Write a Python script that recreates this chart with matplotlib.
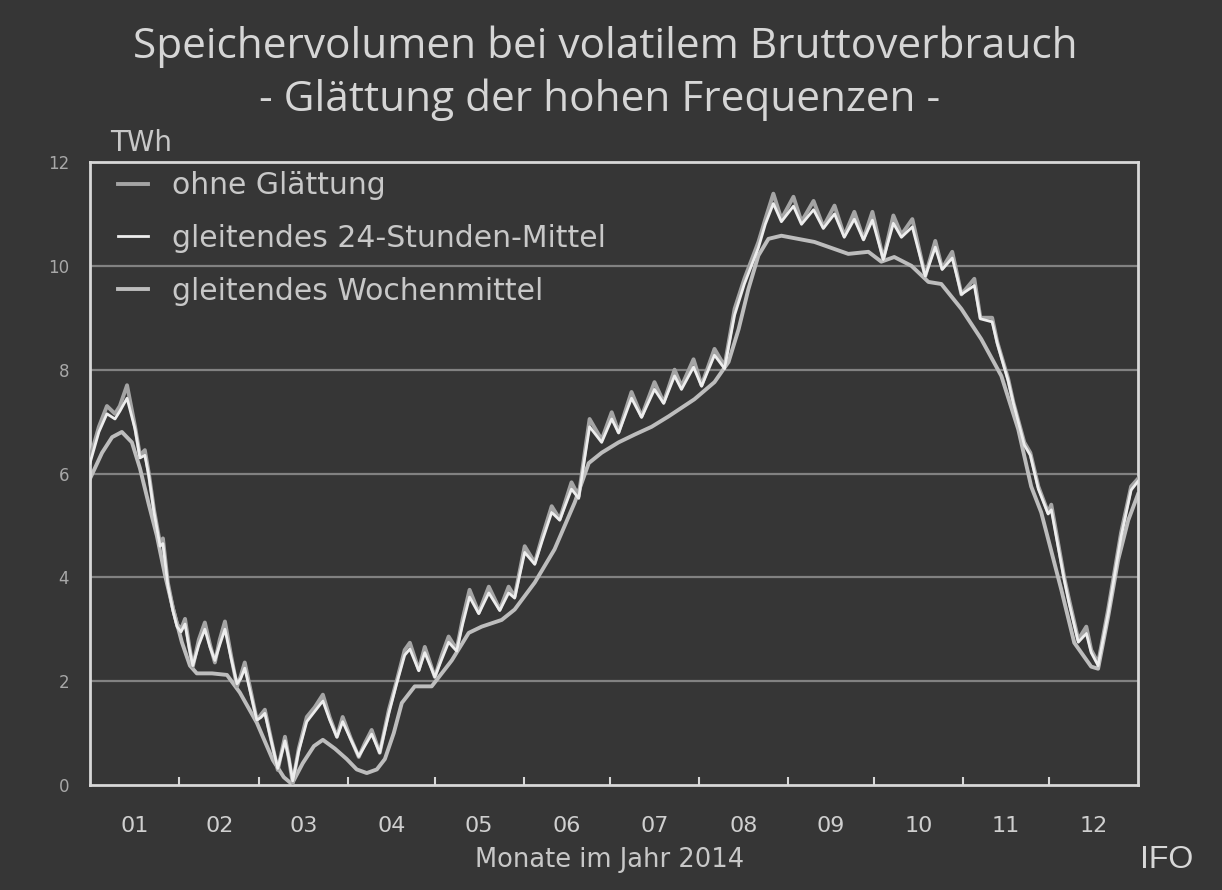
import matplotlib
matplotlib.use("Agg")
import matplotlib.pyplot as plt
import numpy as np

# ---------------- data (day of year 2014, TWh) ----------------
days_raw = [0, 3.1, 5.9, 8.7, 10.4, 12.9, 15.7, 17.4, 19.1, 20.5,
            22.3, 24.4, 25.4, 27.1, 28.9, 30.3, 31.7, 33.1, 34.5, 35.8,
            37.9, 40.0, 41.8, 43.5, 45.2, 47.0, 49.1, 51.2, 52.5, 53.9,
            56.0, 58.1, 59.5, 60.9, 63.0, 65.4, 67.9, 69.3, 70.6, 72.7,
            75.5, 78.3, 81.1, 83.5, 86.0, 88.0, 90.8, 93.6, 95.7, 98.1,
            100.9, 104.1, 106.8, 109.6, 111.4, 114.5, 116.6, 120.1, 122.5, 124.9,
            127.7, 129.8, 132.2, 135.4, 138.9, 142.7, 145.8, 147.9, 151.4, 154.9,
            157.6, 160.8, 163.6, 167.7, 170.2, 172.3, 174.0, 178.2, 181.7, 184.1,
            188.6, 192.1, 196.6, 199.8, 203.6, 206.0, 210.2, 213.0, 217.5, 221.0,
            224.5, 227.9, 232.8, 235.2, 238.0, 240.8, 245.0, 247.8, 252.0, 255.4,
            259.3, 262.7, 266.2, 269.4, 272.5, 276.3, 279.8, 282.6, 286.4, 290.9,
            294.4, 296.8, 300.3, 303.5, 308.0, 310.1, 314.2, 316.0, 319.8, 321.6,
            325.4, 327.5, 330.3, 333.7, 334.8, 339.3, 341.0, 344.2, 347.0, 348.7,
            351.1, 354.6, 359.1, 362.6, 365]

ohne_glaettung = [6.3, 6.9, 7.3, 7.15, 7.3, 7.7, 6.9, 6.35, 6.45, 6.0,
                  5.3, 4.65, 4.75, 3.9, 3.4, 3.1, 3.0, 3.2, 2.7, 2.28,
                  2.8, 3.13, 2.7, 2.36, 2.8, 3.15, 2.5, 1.9, 2.1, 2.36,
                  1.8, 1.25, 1.35, 1.45, 0.9, 0.29, 0.93, 0.5, 0.04, 0.7,
                  1.31, 1.5, 1.74, 1.3, 0.93, 1.31, 0.9, 0.54, 0.8, 1.06,
                  0.62, 1.45, 2.0, 2.6, 2.74, 2.22, 2.66, 2.08, 2.5, 2.86,
                  2.61, 3.2, 3.76, 3.32, 3.82, 3.38, 3.82, 3.63, 4.6, 4.28,
                  4.8, 5.37, 5.12, 5.83, 5.56, 6.4, 7.05, 6.65, 7.18, 6.8,
                  7.57, 7.1, 7.76, 7.37, 8.0, 7.68, 8.2, 7.7, 8.4, 8.07,
                  9.17, 9.75, 10.46, 10.9, 11.39, 10.9, 11.33, 10.85, 11.25, 10.75,
                  11.16, 10.58, 11.04, 10.52, 11.04, 10.13, 10.97, 10.6, 10.9, 9.8,
                  10.48, 9.95, 10.27, 9.45, 9.75, 9.0, 9.0, 8.53, 7.82, 7.37,
                  6.6, 6.4, 5.75, 5.25, 5.4, 4.0, 3.57, 2.8, 3.05, 2.6,
                  2.35, 3.38, 4.86, 5.75, 5.9]

mittel_24h = [6.2, 6.8, 7.15, 7.05, 7.2, 7.45, 6.85, 6.3, 6.35, 5.95,
              5.25, 4.6, 4.65, 3.85, 3.35, 3.05, 2.95, 3.1, 2.65, 2.3,
              2.7, 3.0, 2.65, 2.4, 2.7, 3.0, 2.45, 1.95, 2.05, 2.25,
              1.75, 1.25, 1.3, 1.38, 0.88, 0.32, 0.85, 0.5, 0.08, 0.65,
              1.22, 1.42, 1.62, 1.25, 0.92, 1.22, 0.88, 0.55, 0.75, 0.98,
              0.62, 1.38, 1.95, 2.5, 2.62, 2.2, 2.55, 2.08, 2.42, 2.75,
              2.58, 3.1, 3.62, 3.3, 3.7, 3.36, 3.7, 3.6, 4.48, 4.25,
              4.72, 5.25, 5.1, 5.7, 5.52, 6.3, 6.9, 6.6, 7.05, 6.78,
              7.45, 7.08, 7.62, 7.35, 7.88, 7.62, 8.05, 7.68, 8.28, 8.02,
              9.05, 9.65, 10.35, 10.8, 11.2, 10.85, 11.15, 10.8, 11.08, 10.72,
              11.0, 10.55, 10.9, 10.5, 10.88, 10.12, 10.82, 10.55, 10.75, 9.8,
              10.36, 9.93, 10.15, 9.45, 9.62, 8.98, 8.92, 8.5, 7.78, 7.35,
              6.55, 6.35, 5.7, 5.22, 5.3, 3.95, 3.5, 2.75, 2.92, 2.55,
              2.3, 3.3, 4.78, 5.68, 5.85]

days_week = [0, 4.2, 7.7, 11.1, 14.6, 17.4, 20.5, 23.3, 26.1, 28.9,
             32.0, 34.8, 37.2, 42.5, 47.7, 52.2, 58.1, 63.7, 67.5, 70.3,
             74.1, 78.0, 81.1, 85.3, 89.4, 92.9, 96.4, 99.9, 102.7, 105.8,
             108.6, 113.1, 119.0, 126.0, 131.9, 136.4, 143.4, 147.9, 154.9, 161.8,
             168.8, 173.7, 178.2, 184.1, 189.7, 195.6, 201.5, 210.5, 217.5, 222.4,
             225.9, 229.3, 232.8, 236.3, 240.8, 252.3, 264.1, 271.1, 275.6, 280.1,
             286.1, 292.0, 296.5, 303.5, 310.4, 317.4, 323.3, 327.8, 331.3, 338.3,
             342.8, 348.7, 351.1, 354.6, 358.1, 361.6, 365]

wochenmittel = [5.9, 6.4, 6.7, 6.8, 6.6, 6.1, 5.4, 4.8, 4.05, 3.4,
                2.75, 2.3, 2.15, 2.15, 2.12, 1.78, 1.2, 0.48, 0.15, 0.02,
                0.42, 0.75, 0.87, 0.7, 0.5, 0.3, 0.23, 0.3, 0.5, 1.0,
                1.58, 1.9, 1.9, 2.4, 2.93, 3.05, 3.18, 3.38, 3.9, 4.54,
                5.44, 6.2, 6.4, 6.6, 6.75, 6.9, 7.1, 7.43, 7.76, 8.15,
                8.78, 9.55, 10.2, 10.52, 10.58, 10.46, 10.23, 10.27, 10.08, 10.17,
                10.0, 9.69, 9.65, 9.17, 8.59, 7.88, 6.85, 5.75, 5.25, 3.76,
                2.74, 2.28, 2.24, 3.24, 4.34, 5.1, 5.6]

month_bounds = [31, 59, 90, 120, 151, 181, 212, 243, 273, 304, 334]
month_centers = [15.5, 45, 74.5, 105, 135.5, 166, 196.5, 227.5, 258, 288.5, 319, 349.5]
month_labels = ["01", "02", "03", "04", "05", "06", "07", "08", "09", "10", "11", "12"]
y_ticks = [0, 2, 4, 6, 8, 10, 12]

series_labels = ["ohne Glättung", "gleitendes 24-Stunden-Mittel", "gleitendes Wochenmittel"]

# ---------------- style ----------------
BG = "#363636"
TXT = "#d6d6d6"

fig = plt.figure(figsize=(12.22, 8.90), dpi=100, facecolor=BG)
ax = fig.add_axes([90/1222, 1-785/890, (1138-90)/1222, (785-162)/890])
ax.set_facecolor(BG)

ax.set_xlim(0, 365)
ax.set_ylim(0, 12)

for yv in y_ticks[1:-1]:
    ax.axhline(yv, color="#828282", lw=1.6, zorder=1)

l_raw, = ax.plot(days_raw, ohne_glaettung, color="#a4a4a4", lw=2.8, zorder=3,
                 solid_joinstyle="round")
l_24, = ax.plot(days_raw, mittel_24h, color="#ededed", lw=2.0, zorder=4,
                solid_joinstyle="round")
l_wk, = ax.plot(days_week, wochenmittel, color="#bdbdbd", lw=2.8, zorder=2,
                solid_joinstyle="round")

for s in ax.spines.values():
    s.set_color("#d8d8d8")
    s.set_linewidth(2)

ax.set_yticks(y_ticks)
ax.set_yticklabels([str(v) for v in y_ticks], family="DejaVu Sans")
ax.tick_params(axis="y", length=0, pad=15, labelsize=12, labelcolor="#a8a8a8")

ax.set_xticks(month_bounds)
ax.set_xticklabels([])
ax.tick_params(axis="x", which="major", direction="in", length=6, width=1.5,
               color="#d8d8d8")
ax.set_xticks(month_centers, minor=True)
ax.set_xticklabels(month_labels, minor=True, family="DejaVu Sans")
ax.tick_params(axis="x", which="minor", length=0, pad=22, labelsize=16,
               labelcolor="#cfcfcf")

leg = ax.legend([l_raw, l_24, l_wk], series_labels, loc="upper left",
                bbox_to_anchor=(118/1222, 1-171/890), bbox_transform=fig.transFigure,
                frameon=False, handlelength=1.0, handletextpad=0.8,
                labelspacing=0.8, borderpad=0, borderaxespad=0,
                prop={"family": "DejaVu Sans", "size": 21.5})
for t in leg.get_texts():
    t.set_color("#c8c8c8")

fig.text(0.495, 1-47/890, "Speichervolumen bei volatilem Bruttoverbrauch",
         ha="center", va="center", fontsize=30.5, color=TXT, family="Open Sans")
fig.text(0.491, 1-100/890, "- Glättung der hohen Frequenzen -",
         ha="center", va="center", fontsize=30.5, color=TXT, family="Open Sans")
fig.text(110/1222, 1-143/890, "TWh", ha="left", va="center", fontsize=20,
         color="#c8c8c8", family="DejaVu Sans")
fig.text(610/1222, 1-860/890, "Monate im Jahr 2014", ha="center", va="center",
         fontsize=18.5, color="#c8c8c8", family="DejaVu Sans")
fig.text(1140/1222, 1-860/890, "IFO", ha="left", va="center", fontsize=23,
         color="#d8d8d8", family="Liberation Sans")

fig.savefig("out.png", dpi=100, facecolor=BG)
